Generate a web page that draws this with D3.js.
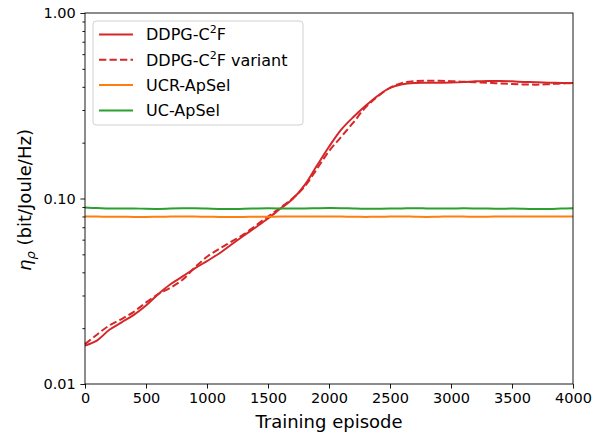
<!DOCTYPE html>
<html>
<head>
<meta charset="utf-8">
<script src="https://cdn.jsdelivr.net/npm/d3@7"></script>
<style>
  body { margin: 0; background: #fff; }
  svg { font-family: "DejaVu Sans", sans-serif; }
</style>
</head>
<body>
<div id="chart"></div>
<script>
// episodes at which the curves were read
const episodes = [0, 100, 200, 300, 400, 500, 600, 700, 800, 900, 1000, 1100, 1200, 1300, 1400,
  1500, 1600, 1700, 1800, 1900, 2000, 2100, 2200, 2300, 2400, 2500, 2600, 2700, 2800, 2900,
  3000, 3100, 3200, 3300, 3400, 3500, 3600, 3700, 3800, 3900, 4000];

const ddpg = [0.0161, 0.0172, 0.0196, 0.0215, 0.0236, 0.0265, 0.0305, 0.0345, 0.0380, 0.0420,
  0.0460, 0.0505, 0.0565, 0.0630, 0.0700, 0.0780, 0.0880, 0.0990, 0.1180, 0.1500,
  0.1900, 0.2350, 0.2750, 0.3160, 0.3580, 0.3950, 0.4130, 0.4200, 0.4210, 0.4210,
  0.4220, 0.4240, 0.4280, 0.4300, 0.4300, 0.4280, 0.4250, 0.4230, 0.4210, 0.4200, 0.4200];

const ddpgVariant = [0.0164, 0.0185, 0.0207, 0.0224, 0.0245, 0.0275, 0.0305, 0.0330, 0.0365, 0.0425,
  0.0485, 0.0535, 0.0585, 0.0640, 0.0715, 0.0800, 0.0890, 0.1000, 0.1160, 0.1440,
  0.1800, 0.2150, 0.2570, 0.3100, 0.3550, 0.3950, 0.4200, 0.4290, 0.4310, 0.4310,
  0.4290, 0.4260, 0.4230, 0.4210, 0.4170, 0.4140, 0.4120, 0.4110, 0.4130, 0.4170, 0.4180];

const ucrApSel = [0.0800, 0.0799, 0.0798, 0.0797, 0.0796, 0.0795, 0.0797, 0.0799, 0.0800, 0.0799,
  0.0797, 0.0796, 0.0795, 0.0796, 0.0797, 0.0798, 0.0799, 0.0800, 0.0800, 0.0801,
  0.0800, 0.0799, 0.0797, 0.0796, 0.0797, 0.0799, 0.0800, 0.0798, 0.0796, 0.0798,
  0.0800, 0.0799, 0.0797, 0.0798, 0.0800, 0.0801, 0.0800, 0.0799, 0.0799, 0.0800, 0.0800];

const ucApSel = [0.0893, 0.0888, 0.0883, 0.0882, 0.0884, 0.0880, 0.0879, 0.0882, 0.0885, 0.0886,
  0.0883, 0.0879, 0.0877, 0.0880, 0.0883, 0.0885, 0.0884, 0.0882, 0.0883, 0.0886,
  0.0888, 0.0887, 0.0883, 0.0880, 0.0880, 0.0882, 0.0884, 0.0886, 0.0884, 0.0882,
  0.0883, 0.0885, 0.0884, 0.0882, 0.0881, 0.0882, 0.0880, 0.0877, 0.0878, 0.0882, 0.0886];

const series = [
  { name: "DDPG-C", sup: "2", tail: "F", values: ddpg, color: "#d62728", dash: null },
  { name: "DDPG-C", sup: "2", tail: "F variant", values: ddpgVariant, color: "#d62728", dash: "7.3,3.2" },
  { name: "UCR-ApSel", values: ucrApSel, color: "#ff7f0e", dash: null },
  { name: "UC-ApSel", values: ucApSel, color: "#2ca02c", dash: null }
];

const xTicks = [0, 500, 1000, 1500, 2000, 2500, 3000, 3500, 4000];
const yTicks = [0.01, 0.1, 1];

const w = 608, h = 432;
const margin = { top: 13, right: 35, bottom: 48, left: 85 };

const svg = d3.select("#chart").append("svg")
  .attr("width", w)
  .attr("height", h);

// SCALES
const x = d3.scaleLinear().domain([0, 4000]).range([margin.left, w - margin.right]);
const y = d3.scaleLog().domain([0.01, 1]).range([h - margin.bottom, margin.top]);

// minor log ticks
const minor = [];
[0.01, 0.1].forEach(b => { for (let k = 2; k <= 9; k++) minor.push(b * k); });

// AXES
const xAxis = svg.append("g")
  .attr("transform", "translate(0," + (h - margin.bottom) + ")")
  .call(d3.axisBottom(x).tickValues(xTicks).tickSize(4.6).tickPadding(4.6).tickFormat(d3.format("d")));

const yAxis = svg.append("g")
  .attr("transform", "translate(" + margin.left + ",0)")
  .call(d3.axisLeft(y).tickValues(yTicks).tickSize(4.6).tickPadding(4.6).tickFormat(d3.format(".2f")));

svg.append("g")
  .attr("transform", "translate(" + margin.left + ",0)")
  .call(d3.axisLeft(y).tickValues(minor).tickSize(2.6).tickFormat(""))
  .call(g => g.select(".domain").remove());

svg.selectAll(".tick text").attr("font-size", 14.5).attr("fill", "#000").attr("font-family", "DejaVu Sans");
svg.selectAll(".tick line").attr("stroke", "#000").attr("stroke-width", 0.9);
svg.selectAll(".domain").remove();

// LINES
const line = d3.line()
  .x((d, i) => x(episodes[i]))
  .y(d => y(d))
  .curve(d3.curveCatmullRom.alpha(0.5));

const plot = svg.append("g");
plot.selectAll(".line").data(series).enter()
  .append("path")
  .attr("class", "line")
  .attr("d", d => line(d.values))
  .attr("fill", "none")
  .attr("stroke", d => d.color)
  .attr("stroke-width", 2)
  .attr("stroke-dasharray", d => d.dash);

// frame
svg.append("rect")
  .attr("x", margin.left).attr("y", margin.top)
  .attr("width", w - margin.left - margin.right)
  .attr("height", h - margin.top - margin.bottom)
  .attr("fill", "none")
  .attr("stroke", "#000")
  .attr("stroke-width", 0.9);

// AXES LABELS
svg.append("text")
  .attr("x", (x(0) + x(4000)) / 2).attr("y", 428)
  .attr("text-anchor", "middle")
  .attr("font-size", 18)
  .text("Training episode");

const yl = svg.append("text")
  .attr("transform", "translate(31," + 200 + ") rotate(-90)")
  .attr("text-anchor", "middle")
  .attr("font-size", 18);
yl.append("tspan").attr("font-style", "italic").text("\u03b7");
yl.append("tspan").attr("font-style", "italic").attr("font-size", 13).attr("dy", 4).text("\u03c1");
yl.append("tspan").attr("dy", -4).text(" (bit/Joule/Hz)");

// LEGEND
const legend = svg.append("g");
legend.append("rect")
  .attr("x", 93).attr("y", 21)
  .attr("width", 210).attr("height", 104)
  .attr("rx", 3)
  .attr("fill", "#fff").attr("fill-opacity", 0.8)
  .attr("stroke", "#d0d0d0").attr("stroke-width", 1);

const items = legend.selectAll(".item").data(series).enter()
  .append("g")
  .attr("transform", (d, i) => "translate(0," + (34.5 + i * 25.3) + ")");

items.append("line")
  .attr("x1", 99).attr("x2", 133)
  .attr("stroke", d => d.color)
  .attr("stroke-width", 2)
  .attr("stroke-dasharray", d => d.dash);

const lt = items.append("text")
  .attr("x", 146).attr("y", 5.8)
  .attr("font-size", 16);
lt.append("tspan").text(d => d.name);
lt.filter(d => d.sup).append("tspan").attr("font-size", 11).attr("dy", -7).text(d => d.sup);
lt.filter(d => d.sup).append("tspan").attr("dy", 7).text(d => d.tail);
</script>
</body>
</html>
